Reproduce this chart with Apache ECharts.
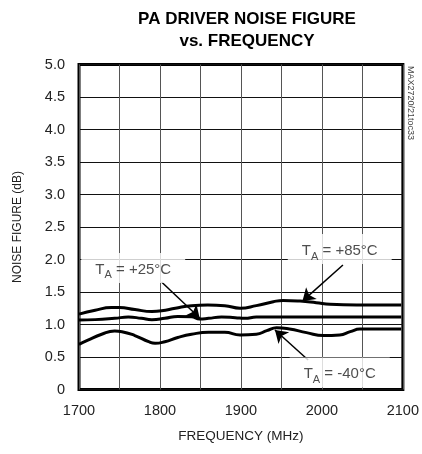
<!DOCTYPE html>
<html><head><meta charset="utf-8">
<script src="https://cdn.jsdelivr.net/npm/echarts@6/dist/echarts.min.js"></script>
<style>html,body{margin:0;padding:0;background:#fff}#c{width:422px;height:454px}</style>
</head><body><div id="c"></div>
<script>
const freq85 = [1700,1720,1740,1750,1769,1790,1802,1819,1839,1859,1880,1899,1919,1940,1952,1973,1993,2010,2043,2070,2098];
const nf85   = [1.16,1.22,1.26,1.26,1.23,1.20,1.21,1.25,1.29,1.30,1.29,1.25,1.29,1.35,1.37,1.36,1.335,1.31,1.30,1.30,1.30];
const freq25 = [1700,1720,1744,1761,1777,1790,1806,1822,1839,1849,1860,1876,1893,1905,1919,1940,1980,2020,2060,2098];
const nf25   = [1.07,1.075,1.095,1.115,1.095,1.075,1.095,1.125,1.12,1.085,1.095,1.115,1.105,1.095,1.115,1.115,1.115,1.115,1.115,1.115];
const freqM40 = [1700,1711,1728,1744,1753,1769,1786,1794,1806,1822,1839,1860,1880,1899,1919,1932,1944,1960,1981,2002,2022,2035,2047,2070,2098];
const nfM40   = [0.695,0.76,0.85,0.90,0.89,0.83,0.735,0.71,0.735,0.80,0.85,0.88,0.88,0.84,0.85,0.905,0.95,0.93,0.875,0.83,0.84,0.89,0.93,0.93,0.93];
const yTicks = [0,0.5,1.0,1.5,2.0,2.5,3.0,3.5,4.0,4.5,5.0];
const xTicks = [1700,1800,1900,2000,2100];
// annotations: label text, label anchor (freq, nf); arrows: from -> to
const labelNames = ['+25°C','+85°C','-40°C'];
const labelPos = [[1767,1.87],[2022,2.16],[2022,0.26]];
const arrowFrom = [[1802,1.654],[2026,1.915],[1983,0.454]];
const arrowTo   = [[1849,1.10],[1976,1.36],[1942,0.915]];

const FONT = '"Liberation Sans","Arial",sans-serif';
const zip = (a,b)=>a.map((v,i)=>[v,b[i]]);
const curve = (name,f,v)=>({name,type:'line',data:zip(f,v),smooth:0.5,symbol:'none',
  lineStyle:{color:'#000',width:3},z:3});

const chart = echarts.init(document.getElementById('c'),null,{renderer:'canvas'});
chart.setOption({
  animation:false,
  backgroundColor:'#fff',
  title:{text:'PA DRIVER NOISE FIGURE\nvs. FREQUENCY',left:242,top:3,textAlign:'center',
    textStyle:{fontFamily:FONT,fontWeight:'bold',fontSize:17,lineHeight:22,color:'#000'}},
  graphic:[{type:'text',left:406,top:66,rotation:-Math.PI/2,
    style:{text:'MAX2720/21toc33',font:'9px '+FONT,fill:'#444'}}],
  grid:{left:79,right:19,top:64.5,bottom:64.5,show:true,borderColor:'#000',borderWidth:3,containLabel:false},
  xAxis:{type:'value',min:1700,max:2100,interval:50,
    name:'FREQUENCY (MHz)',nameLocation:'middle',nameGap:40,
    nameTextStyle:{fontFamily:FONT,fontSize:13.5,color:'#222'},
    axisLine:{show:false},axisTick:{show:false},
    axisLabel:{fontFamily:FONT,fontSize:14.5,color:'#222',margin:14,
      formatter:v=>xTicks.includes(v)?String(v):''},
    splitLine:{show:true,lineStyle:{color:'#555',width:1}}},
  yAxis:{type:'value',min:0,max:5,interval:0.5,
    name:'NOISE FIGURE (dB)',nameLocation:'middle',nameGap:55,
    nameTextStyle:{fontFamily:FONT,fontSize:12,color:'#222'},
    axisLine:{show:false},axisTick:{show:false},
    axisLabel:{fontFamily:FONT,fontSize:14.5,color:'#222',margin:14,
      formatter:v=>{const t=yTicks.find(x=>Math.abs(x-v)<1e-6);return t===0?'0':t.toFixed(1);}},
    splitLine:{show:true,lineStyle:{color:'#111',width:1}}},
  series:[
    curve('TA = +85°C',freq85,nf85),
    curve('TA = +25°C',freq25,nf25),
    curve('TA = -40°C',freqM40,nfM40),
    {type:'lines',coordinateSystem:'cartesian2d',z:4,
      symbol:['none','arrow'],symbolSize:[0,12],
      lineStyle:{color:'#000',width:1.5,opacity:1},
      data:arrowFrom.map((p,i)=>({coords:[p,arrowTo[i]]}))},
    {type:'scatter',symbolSize:0,z:5,silent:true,
      data:labelPos.map((p,i)=>({value:p,name:labelNames[i]})),
      label:{show:true,position:'inside',
        formatter:p=>'{t|T}{s|A}{t| = '+p.name+'}',
        backgroundColor:'#fff',padding:[6,14,6,14],
        rich:{t:{fontFamily:FONT,fontSize:15,color:'#222',verticalAlign:'bottom',lineHeight:18},
              s:{fontFamily:FONT,fontSize:11,color:'#222',verticalAlign:'bottom',lineHeight:13,padding:[0,0,-4,0]}}}}
  ]
});
</script></body></html>
